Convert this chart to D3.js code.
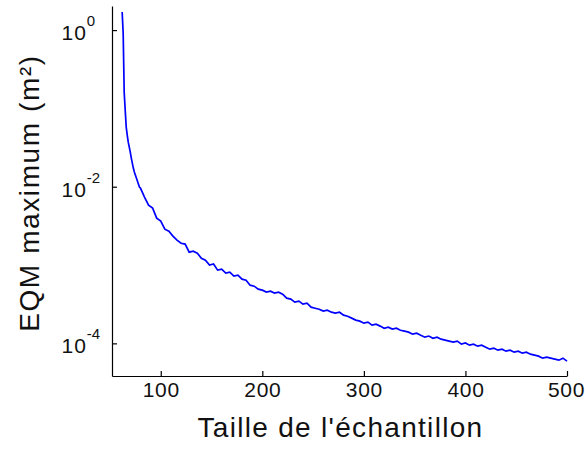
<!DOCTYPE html>
<html>
<head>
<meta charset="utf-8">
<script src="https://cdn.jsdelivr.net/npm/d3@7"></script>
<style>
  html, body { margin: 0; padding: 0; background: #fff; }
  svg { display: block; }
  text { font-family: "Liberation Sans", Arial, Helvetica, sans-serif; fill: #111; }
</style>
</head>
<body>
<svg id="chart" width="585" height="453"></svg>
<script>
// ---- data ----
const sampleSize = [
  62, 63, 64, 65, 66, 67, 68, 69, 70, 71, 72, 73, 74, 75, 76, 77, 78, 79,
  80, 84, 88, 92, 96, 100, 104, 108, 112, 116, 120, 124, 128, 132, 136, 140, 144, 148,
  152, 156, 160, 164, 168, 172, 176, 180, 184, 188, 192, 196, 200, 204, 208, 212, 216,
  220, 224, 228, 232, 236, 240, 244, 248, 252, 256, 260, 264, 268, 272, 276, 280, 284,
  288, 292, 296, 300, 304, 308, 312, 316, 320, 324, 328, 332, 336, 340, 344, 348, 352,
  356, 360, 364, 368, 372, 376, 380, 384, 388, 392, 396, 400, 404, 408, 412, 416, 420,
  424, 428, 432, 436, 440, 444, 448, 452, 456, 460, 464, 468, 472, 476, 480, 484, 488,
  492, 496, 500
];
const eqmMax = [
  1.70, 0.915, 0.161, 0.0951, 0.0577, 0.0456, 0.0371, 0.0321, 0.0277, 0.0232, 0.0200,
  0.0173, 0.0154, 0.0141, 0.0129, 0.0118, 0.0108, 0.00989,
  9.60e-3, 7.37e-3, 5.82e-3, 5.33e-3, 3.97e-3, 3.64e-3, 2.87e-3, 2.71e-3, 2.34e-3, 2.08e-3,
  1.90e-3, 1.85e-3, 1.46e-3, 1.50e-3, 1.42e-3, 1.22e-3, 1.15e-3, 1.00e-3,
  1.03e-3, 8.61e-4, 8.86e-4, 7.88e-4, 8.11e-4, 7.21e-4, 7.43e-4, 6.60e-4, 6.41e-4, 5.53e-4,
  5.37e-4, 4.92e-4, 4.78e-4, 4.51e-4, 4.64e-4, 4.38e-4, 4.51e-4,
  4.25e-4, 3.78e-4, 3.67e-4, 3.36e-4, 3.46e-4, 3.17e-4, 3.26e-4, 2.90e-4, 2.81e-4, 2.73e-4,
  2.58e-4, 2.65e-4, 2.50e-4, 2.43e-4, 2.50e-4, 2.29e-4, 2.22e-4,
  2.10e-4, 1.98e-4, 1.92e-4, 1.81e-4, 1.87e-4, 1.71e-4, 1.76e-4, 1.66e-4, 1.56e-4, 1.61e-4,
  1.52e-4, 1.56e-4, 1.47e-4, 1.43e-4, 1.39e-4, 1.31e-4, 1.35e-4,
  1.27e-4, 1.20e-4, 1.24e-4, 1.16e-4, 1.20e-4, 1.13e-4, 1.10e-4, 1.07e-4, 1.04e-4, 1.07e-4,
  9.77e-5, 1.01e-4, 9.48e-5, 9.77e-5, 9.21e-5, 9.48e-5, 8.94e-5,
  8.43e-5, 8.68e-5, 8.19e-5, 8.43e-5, 7.95e-5, 8.19e-5, 7.72e-5, 7.95e-5, 7.49e-5, 7.72e-5,
  7.28e-5, 7.07e-5, 6.86e-5, 6.47e-5, 6.66e-5, 6.47e-5, 6.28e-5,
  6.10e-5, 6.47e-5, 5.92e-5
];
const xTicks = [100, 200, 300, 400, 500];
const yTicks = [1, 1e-2, 1e-4];
const yTickExponents = ["0", "-2", "-4"];
const xDomain = [52, 500];
const yDomain = [2.03, 3.83e-5];
const xTitle = "Taille de l'échantillon";
const yTitle = "EQM maximum (m²)";

// ---- layout ----
const plotLeft = 112, plotRight = 567, plotTop = 6, plotBottom = 376;
const svg = d3.select("#chart");

const x = d3.scaleLinear().domain(xDomain).range([plotLeft, plotRight]);
const y = d3.scaleLog().domain(yDomain).range([plotTop, plotBottom]);

// curve
const pts = sampleSize.map((n, i) => [n, eqmMax[i]]);
svg.append("path")
  .datum(pts)
  .attr("fill", "none")
  .attr("stroke", "#0000ff")
  .attr("stroke-width", 1.7)
  .attr("stroke-linejoin", "miter")
  .attr("d", d3.line().x(d => x(d[0])).y(d => y(d[1])));

// x axis
const gx = svg.append("g")
  .attr("transform", `translate(0,${plotBottom})`)
  .call(d3.axisBottom(x).tickValues(xTicks).tickSize(-5).tickSizeOuter(0).tickFormat(d3.format("d")));
gx.attr("font-family", null).attr("font-size", null);
gx.selectAll("text")
  .attr("y", 21)
  .attr("dy", null)
  .attr("x", d => d === 500 ? -1 : 0)
  .style("font-size", "21px")
  .style("letter-spacing", "0.7px");

// y axis
const gy = svg.append("g")
  .attr("transform", `translate(${plotLeft},0)`)
  .call(d3.axisLeft(y).tickValues(yTicks).tickSize(-5).tickSizeOuter(0).tickFormat(""));
gy.attr("font-family", null).attr("font-size", null);
gy.selectAll(".tick text").remove();
gy.selectAll(".tick").each(function(d, i) {
  const t = d3.select(this).append("text")
    .attr("x", -50.5)
    .attr("y", 9.5)
    .attr("text-anchor", "start")
    .style("font-size", "21px")
    .style("letter-spacing", "1px");
  t.append("tspan").text("10");
  t.append("tspan")
    .attr("dy", -14)
    .style("font-size", "15px")
    .style("letter-spacing", "0px")
    .text(yTickExponents[i]);
});

svg.selectAll(".domain, .tick line")
  .attr("stroke", "#000")
  .attr("stroke-width", 1.2);

// titles
svg.append("text")
  .attr("x", (plotLeft + plotRight) / 2 + 1)
  .attr("y", 437)
  .attr("text-anchor", "middle")
  .style("font-size", "28px")
  .style("letter-spacing", "1.3px")
  .text(xTitle);

svg.append("text")
  .attr("transform", `translate(39,${(plotTop + plotBottom) / 2 + 2}) rotate(-90)`)
  .attr("text-anchor", "middle")
  .style("font-size", "28px")
  .style("letter-spacing", "1.6px")
  .text(yTitle);
</script>
</body>
</html>
